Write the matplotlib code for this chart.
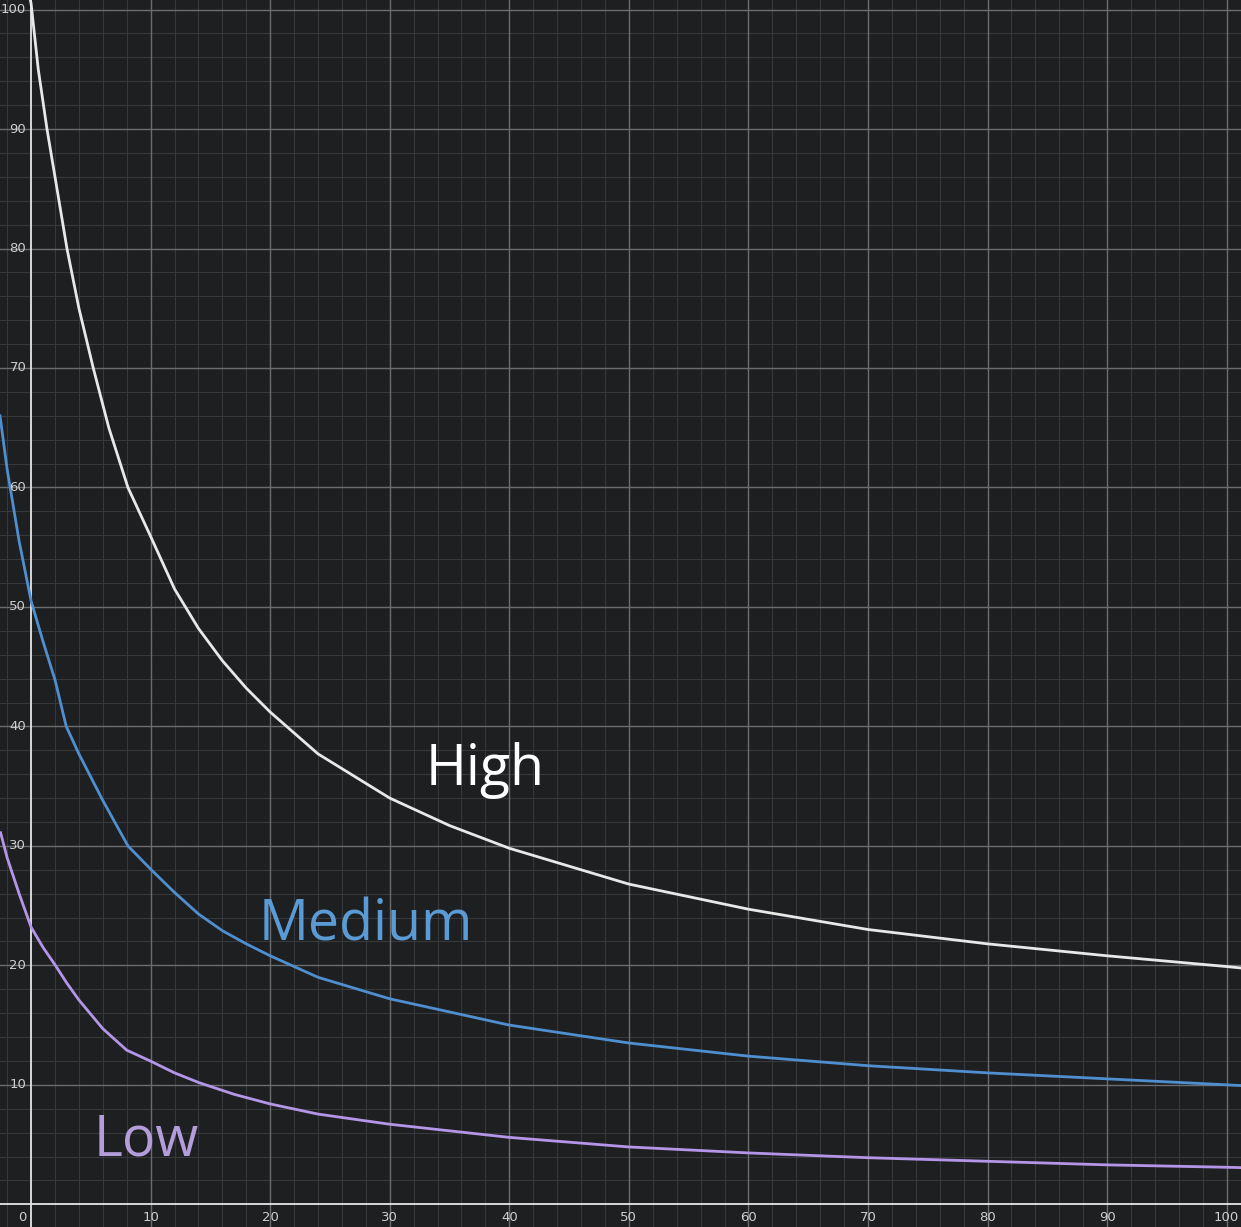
import matplotlib
matplotlib.use("Agg")
import matplotlib.pyplot as plt

# values
high_x = [-0.2, 0, 0.6, 1.33, 2, 3, 4, 5.2, 6.5, 8.1, 10, 12, 14, 16, 18, 20, 24, 30, 35, 40, 50, 60, 70, 80, 90, 100, 102]
high_y = [101.5, 100.5, 95, 90, 86, 80, 75, 70, 65, 60, 55.9, 51.5, 48.2, 45.5, 43.2, 41.2, 37.7, 34, 31.7, 29.8, 26.8, 24.7, 23, 21.8, 20.8, 19.9, 19.7]

med_x = [-2.6, -2, -1, 0, 1, 2, 2.94, 4, 6, 8.1, 10, 12, 14, 16, 18, 20, 24, 30, 40, 50, 60, 70, 80, 90, 100, 102]
med_y = [66, 61.5, 55.5, 50.5, 47.1, 43.9, 40, 37.7, 33.8, 30, 28.05, 26.1, 24.3, 22.9, 21.8, 20.8, 19, 17.2, 15, 13.5, 12.4, 11.6, 11, 10.5, 10, 9.9]

low_x = [-2.55, -2, -1, 0, 1, 2, 3, 4, 6, 8, 10, 12, 14, 17, 20, 24, 30, 40, 50, 60, 70, 80, 90, 100, 102]
low_y = [31.1, 29, 26, 23.2, 21.5, 20.05, 18.5, 17.1, 14.7, 12.9, 11.98, 11, 10.2, 9.2, 8.4, 7.55, 6.7, 5.6, 4.8, 4.3, 3.9, 3.6, 3.3, 3.1, 3.05]

major_ticks = list(range(10, 101, 10))

BG = "#1e1f21"
fig = plt.figure(figsize=(12.41, 12.27), dpi=100, facecolor=BG)
ax = fig.add_axes([0, 0, 1, 1], facecolor=BG)
ax.set_xlim(-2.6, 101.2)
ax.set_ylim(-1.9, 100.8)

for v in range(-2, 102, 2):
    if v % 10:
        ax.axvline(v, color="#36383b", lw=0.8, zorder=0)
        ax.axhline(v, color="#36383b", lw=0.8, zorder=0)
for v in major_ticks:
    ax.axvline(v, color="#6a6c70", lw=1, zorder=0)
    ax.axhline(v, color="#6a6c70", lw=1, zorder=0)
ax.axvline(0, color="#e6e6e6", lw=1.3, zorder=1)
ax.axhline(0, color="#e6e6e6", lw=1.3, zorder=1)

ax.plot(high_x, high_y, color="#e8e8e8", lw=2, zorder=3, solid_joinstyle="round")
ax.plot(med_x, med_y, color="#4f8fd0", lw=2, zorder=3, solid_joinstyle="round")
ax.plot(low_x, low_y, color="#b496e8", lw=2, zorder=3, solid_joinstyle="round")

for v in major_ticks:
    ax.text(v, -0.6, str(v), color="#cfcfcf", fontsize=9.5, ha="center", va="top")
    ax.text(-0.4, v, str(v), color="#cfcfcf", fontsize=9.5, ha="right", va="center")
ax.text(-0.4, -0.6, "0", color="#cfcfcf", fontsize=9.5, ha="right", va="top")

ax.text(38, 36.3, "High", color="white", fontsize=40, ha="center", va="center", family="Open Sans")
ax.text(28, 23.3, "Medium", color="#5b9bd5", fontsize=40, ha="center", va="center", family="Open Sans")
ax.text(9.6, 5.3, "Low", color="#b39ddb", fontsize=40, ha="center", va="center", family="Open Sans")

ax.set_xticks([])
ax.set_yticks([])
for s in ax.spines.values():
    s.set_visible(False)

fig.savefig("out.png", dpi=100, facecolor=BG)
